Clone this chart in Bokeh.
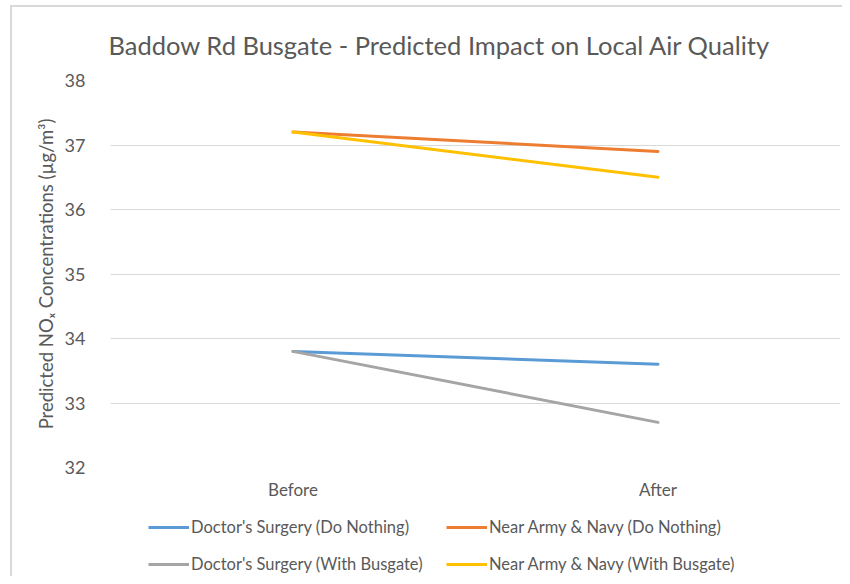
from bokeh.plotting import figure
from bokeh.layouts import column, row
from bokeh.models import FactorRange, Range1d, FixedTicker, Legend, LegendItem, Spacer
from bokeh.embed import file_html
from bokeh.resources import INLINE

# ---- data ----
categories = ["Before", "After"]
doctor_do_nothing = [33.8, 33.6]
army_do_nothing = [37.2, 36.9]
doctor_busgate = [33.8, 32.7]
army_busgate = [37.2, 36.5]
y_ticks = [32, 33, 34, 35, 36, 37, 38]

series_names = [
    "Doctor's Surgery (Do Nothing)",
    "Near Army & Navy (Do Nothing)",
    "Doctor's Surgery (With Busgate)",
    "Near Army & Navy (With Busgate)",
]
series_values = [doctor_do_nothing, army_do_nothing, doctor_busgate, army_busgate]
series_colors = ["#5B9BD5", "#ED7D31", "#A5A5A5", "#FFC000"]

FONT = "Lato"
TXT = "#595959"
BORDER = "#D9D9D9"

p = figure(
    width=830, height=503,
    x_range=FactorRange(*categories, range_padding=0),
    y_range=Range1d(32, 38),
    output_backend="svg", toolbar_location=None,
    min_border_left=98, min_border_right=2, min_border_top=73, min_border_bottom=43,
)

p.title.text = "Baddow Rd Busgate - Predicted Impact on Local Air Quality"
p.title.text_font = FONT
p.title.text_font_size = "25.5px"
p.title.text_font_style = "normal"
p.title.text_color = TXT
p.title.align = "left"
p.title.offset = -2
p.title.standoff = 41

p.outline_line_color = None
p.xgrid.grid_line_color = None
p.ygrid.grid_line_color = BORDER
p.ygrid.grid_line_width = 1

p.yaxis.ticker = FixedTicker(ticks=y_ticks)
for ax in (p.xaxis[0], p.yaxis[0]):
    ax.axis_line_color = None
    ax.major_tick_line_color = None
    ax.minor_tick_line_color = None
    ax.major_tick_out = 0
    ax.major_tick_in = 0
    ax.major_label_text_font = FONT
    ax.major_label_text_color = TXT
p.yaxis.major_label_text_font_size = "18px"
p.xaxis.major_label_text_font_size = "17px"
p.yaxis.major_label_standoff = 25
p.xaxis.major_label_standoff = 11

p.yaxis.axis_label = "Predicted NOₓ Concentrations (µg/m³)"
p.yaxis.axis_label_text_font = FONT
p.yaxis.axis_label_text_font_size = "18.5px"
p.yaxis.axis_label_text_font_style = "normal"
p.yaxis.axis_label_text_color = TXT
p.yaxis.axis_label_standoff = 5

for vals, col in zip(series_values, series_colors):
    p.line(x=categories, y=vals, line_color=col, line_width=3, line_cap="round")

# ---- legend strip below the chart (its series lie outside the strip's view) ----
lg = figure(
    width=830, height=66,
    x_range=FactorRange(*categories, range_padding=0), y_range=Range1d(0, 1),
    output_backend="svg", toolbar_location=None,
    min_border=0, min_border_left=0, min_border_right=0, min_border_top=0, min_border_bottom=0,
)
lg.axis.visible = False
lg.grid.visible = False
lg.outline_line_color = None

items = []
for name, vals, col in zip(series_names, series_values, series_colors):
    r = lg.line(x=categories, y=vals, line_color=col, line_width=3)
    items.append(LegendItem(label=name, renderers=[r]))

legend = Legend(
    items=items, ncols=2, location=(38, 2),
    orientation="horizontal",
    label_text_font=FONT, label_text_font_size="16.5px", label_text_color=TXT,
    glyph_width=41, glyph_height=20, label_height=20, label_width=238, label_standoff=2,
    spacing=17, padding=0, margin=0,
    border_line_color=None, background_fill_alpha=0,
)
lg.add_layout(legend, "center")

# ---- chart-area frame (light grey left and top edges) ----
layout = column(
    Spacer(width=842, height=5),
    row(Spacer(width=10, height=2), Spacer(width=832, height=2, styles={"background-color": BORDER}), spacing=0),
    row(
        Spacer(width=10, height=569),
        Spacer(width=2, height=569, styles={"background-color": BORDER}),
        column(p, lg, spacing=0),
        spacing=0,
    ),
    spacing=0,
)

open("out.html", "w").write(file_html(layout, INLINE))
